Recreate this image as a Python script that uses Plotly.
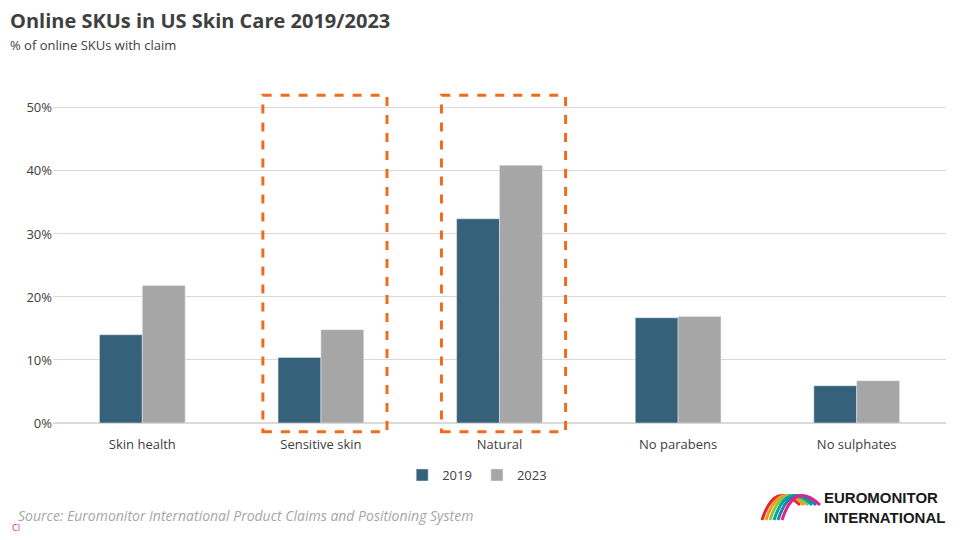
import plotly.graph_objects as go

categories = ["Skin health", "Sensitive skin", "Natural", "No parabens", "No sulphates"]
values_2019 = [0.140, 0.104, 0.324, 0.167, 0.059]
values_2023 = [0.218, 0.148, 0.409, 0.169, 0.067]
highlighted = ["Sensitive skin", "Natural"]

y_max = 0.53
# page has an 8px body margin, so the plot is laid out in page coords shifted by 8
OFF = 8
L, T, B = 45, 89 - OFF, 423 - OFF
W, H = 893, B - T

fig = go.Figure()
fig.add_trace(go.Bar(x=categories, y=values_2019, name="2019", marker_color="#35627a"))
fig.add_trace(go.Bar(x=categories, y=values_2023, name="2023", marker_color="#a6a6a6"))

# dashed highlight boxes (y in paper units so they are not clipped at the axis)
for cat in highlighted:
    i = categories.index(cat)
    fig.add_shape(type="rect", xref="x", yref="paper", x0=i - 0.325, x1=i + 0.37,
                  y0=-0.014 / y_max, y1=0.52 / y_max,
                  line=dict(color="#f26b1d", width=3, dash="dash"),
                  fillcolor="rgba(0,0,0,0)", layer="above")

fig.update_layout(
    width=960, height=540,
    margin=dict(l=L, r=960 - L - W, t=T, b=540 - B, autoexpand=False),
    plot_bgcolor="white", paper_bgcolor="white",
    font=dict(family="Open Sans", size=13, color="#404040"),
    barmode="group", bargap=0.52, bargroupgap=0,
    showlegend=True,
    legend=dict(orientation="h", x=0.475, xanchor="center", y=(423 - 460) / H, yanchor="top",
                font=dict(size=13), traceorder="normal"),
    xaxis=dict(showline=False, ticks="", tickfont=dict(size=13), ticklabelstandoff=12),
    yaxis=dict(range=[0, y_max], dtick=0.1, tickformat=".0%", gridcolor="#d9d9d9",
               zeroline=True, zerolinecolor="#d9d9d9", tickfont=dict(size=13)),
)

def text_at(txt, px, py, size, color, **kw):
    fig.add_annotation(text=txt, xref="paper", yref="paper",
                       x=(px - OFF - L) / W, y=(423 - py) / H,
                       xanchor=kw.pop("xanchor", "left"), yanchor="middle",
                       showarrow=False, font=dict(size=size, color=color, **kw.pop("font", {})), **kw)

text_at("<b>Online SKUs in US Skin Care 2019/2023</b>", 8, 21, 20, "#404040")
text_at("% of online SKUs with claim", 8, 45, 13, "#404040")
text_at("<i>Source: Euromonitor International Product Claims and Positioning System</i>",
        16, 515, 14, "#a6a6a6")
text_at("CI", 10, 527, 9, "#e0218a")
text_at("<b>EUROMONITOR<br>INTERNATIONAL</b>", 947, 507, 15, "#1a1a1a",
        xanchor="right", align="left", font=dict(family="Liberation Sans"))

# simple logo arcs
logo_colors = ["#e5242d", "#f59c1a", "#8cc63f", "#00a79d", "#2a7ab0", "#e0218a"]
for k, c in enumerate(logo_colors):
    x0 = (762 + k * 4 - OFF - L) / W
    x1 = (800 + k * 4 - OFF - L) / W
    xm = (775 + k * 4 - OFF - L) / W
    fig.add_shape(type="path", xref="paper", yref="paper",
                  path=f"M {x0},{(423-520)/H} Q {xm},{(423-480)/H} {x1},{(423-505)/H}",
                  line=dict(color=c, width=3))

fig.write_html("out.html")
